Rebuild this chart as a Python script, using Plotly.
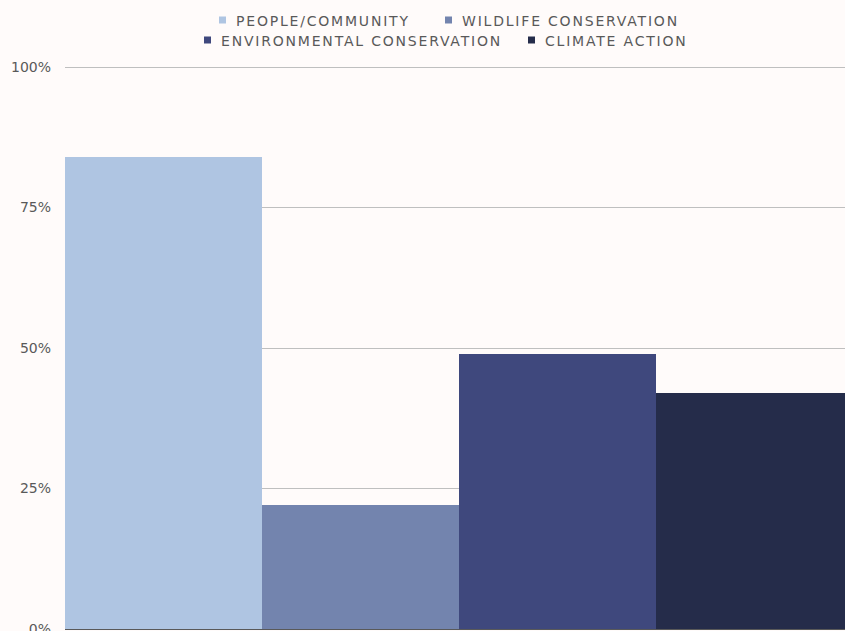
import plotly.graph_objects as go

# Share of respondents by cause area
categories = ["PEOPLE/COMMUNITY", "WILDLIFE CONSERVATION",
              "ENVIRONMENTAL CONSERVATION", "CLIMATE ACTION"]
values = [84, 22, 49, 42]
colors = ["#AFC5E2", "#7384AE", "#3F487D", "#252C4A"]

y_ticks = [0, 25, 50, 75, 100]
y_tick_labels = ["0%", "25%", "50%", "75%", "100%"]

FONT = "DejaVu Sans"
TEXT_COLOR = "#595959"
BG = "#FFFBFA"

# One single-entry legend per series: (left edge px, row centre px)
legend_ids = ["legend", "legend2", "legend3", "legend4"]
legend_pos = [(202.5, 20.5), (428.5, 20.5), (187.5, 40.5), (511.5, 40.5)]

fig = go.Figure()
for name, val, col, lg in zip(categories, values, colors, legend_ids):
    fig.add_trace(go.Bar(
        x=[""], y=[val], name=name, marker_color=col,
        marker_line_width=0, legend=lg,
    ))

legend_layout = {}
for lg, (lx, ly) in zip(legend_ids, legend_pos):
    legend_layout[lg] = dict(
        orientation="h", xref="container", yref="container",
        x=lx / 845, y=1 - ly / 631, xanchor="left", yanchor="middle",
        font=dict(family=FONT, size=14, color=TEXT_COLOR),
        bgcolor="rgba(0,0,0,0)", borderwidth=0, itemclick=False,
    )

fig.update_layout(
    width=845, height=631,
    margin=dict(l=65, r=0, t=65, b=2),
    paper_bgcolor=BG, plot_bgcolor=BG,
    barmode="group", bargap=0, bargroupgap=0,
    showlegend=True,
    xaxis=dict(showticklabels=False, showgrid=False, zeroline=False,
               range=[-0.5, -0.5 + 780 / 788]),
    yaxis=dict(range=[0, 100.36], tickvals=y_ticks, ticktext=y_tick_labels,
               showgrid=True, gridcolor="#BFBFBF", gridwidth=1,
               zeroline=True, zerolinecolor="#595959", zerolinewidth=1.5,
               tickfont=dict(family=FONT, size=14, color=TEXT_COLOR),
               ticklabelstandoff=13, ticklabeloverflow="allow",
               automargin=False),
    **legend_layout,
)

# Wide tracking and smaller square swatches in the legends (a background
# coloured outline trims each 12px swatch to about 7px); the legends are then
# laid out again so their measured widths include the tracking.
legend_css = (
    ".legendtext, .legend2text, .legend3text, .legend4text"
    "{letter-spacing:1.8px; transform:translateX(-6.5px);}"
    " g.legendpoints path{stroke:" + BG + " !important;"
    " stroke-width:5px !important; stroke-opacity:1 !important;}"
)
spacing_js = """
var gd = document.getElementById('{plot_id}');
var st = document.createElement('style');
st.textContent = '%s';
document.head.appendChild(st);
Plotly.relayout(gd, {'legend.font.size': 14.01, 'legend2.font.size': 14.01,
                     'legend3.font.size': 14.01, 'legend4.font.size': 14.01});
""" % legend_css

fig.write_html("out.html", post_script=spacing_js)
